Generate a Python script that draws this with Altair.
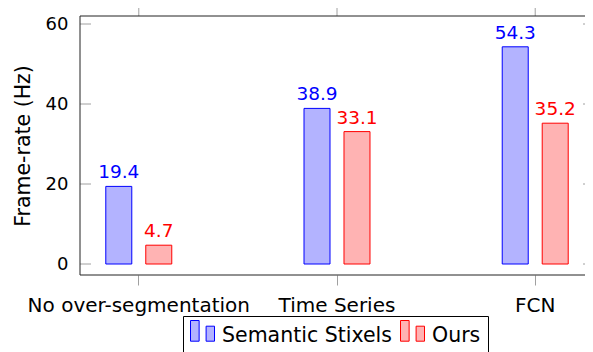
import altair as alt
import pandas as pd

categories = ["No over-segmentation", "Time Series", "FCN"]
series = ["Semantic Stixels", "Ours"]
semantic_stixels = [19.4, 38.9, 54.3]
ours = [4.7, 33.1, 35.2]
y_ticks = [0, 20, 40, 60]

df = pd.DataFrame({
    "category": categories * 2,
    "series": [series[0]] * len(categories) + [series[1]] * len(categories),
    "rate": semantic_stixels + ours,
})
df["label"] = df["rate"].map(lambda v: f"{v:.1f}")

FONT = "DejaVu Sans"
W_VIEW, W_FULL, H = 505, 514, 259
FILLS = ["#b3b3ff", "#ffb3b3"]
LINES = ["#0000ff", "#ff0000"]
TICK = "#a0a0a0"
FRAME = "#222222"

x_enc = alt.X(
    "category:N", sort=categories,
    scale=alt.Scale(domain=categories, range=[0, W_FULL], paddingInner=0.5965, paddingOuter=0.0948),
    axis=alt.Axis(title=None, labelFont=FONT, labelFontSize=20, labelColor="black",
                  labelAngle=0, labelPadding=10, tickSize=10, tickColor=TICK, tickWidth=1,
                  domain=False, grid=False, labelLimit=400, labelOverlap=False),
)
y_enc = alt.Y(
    "rate:Q",
    scale=alt.Scale(domain=[-2.75, 62], nice=False, zero=False),
    axis=alt.Axis(title="Frame-rate (Hz)", values=y_ticks, titleFont=FONT, titleFontSize=20.5,
                  titleFontWeight="normal", titleColor="black", titlePadding=12,
                  labelFont=FONT, labelFontSize=18, labelColor="black", labelPadding=12,
                  ticks=False, tickSize=0, domain=False, grid=False),
)
xoff = alt.XOffset("series:N", sort=series,
                   scale=alt.Scale(domain=series, paddingInner=0.35, paddingOuter=0.175))

legend = alt.Legend(
    title=None, orient="none", legendX=103, legendY=300, direction="horizontal",
    symbolType="M-1,-1.25H-0.28V0.475H-1Z M0.3,-0.775H1V0.475H0.3Z",
    symbolSize=576, symbolStrokeWidth=1, symbolOpacity=1,
    labelFont=FONT, labelFontSize=20.5, labelColor="black", labelOffset=7,
    columnPadding=6, padding=7, strokeColor="black", labelLimit=400,
    labelExpr="datum.label == 'Ours' ? datum.label + '\u00a0\u00a0' : datum.label",
)

bars = alt.Chart(df).mark_bar(strokeWidth=1).encode(
    x=x_enc, xOffset=xoff, y=y_enc,
    fill=alt.Fill("series:N", sort=series, scale=alt.Scale(domain=series, range=FILLS), legend=legend),
    stroke=alt.Stroke("series:N", sort=series, scale=alt.Scale(domain=series, range=LINES), legend=legend),
)

text = alt.Chart(df).mark_text(font=FONT, fontSize=18.5, baseline="alphabetic", dy=-8).encode(
    x=x_enc, xOffset=xoff, y=y_enc, text="label:N",
    color=alt.Color("series:N", sort=series, scale=alt.Scale(domain=series, range=LINES), legend=None),
)

tick_df = pd.DataFrame({"rate": y_ticks})
ticks_left = alt.Chart(tick_df).mark_rule(color=TICK, strokeWidth=1).encode(
    y=y_enc, x=alt.value(0), x2=alt.value(11))
ticks_right = alt.Chart(tick_df).mark_rule(color=TICK, strokeWidth=1).encode(
    y=y_enc, x=alt.value(W_FULL - 11), x2=alt.value(W_FULL))
top_ticks = alt.Chart(pd.DataFrame({"category": categories})).mark_rule(color=TICK, strokeWidth=1).encode(
    x=x_enc, y=alt.value(-10), y2=alt.value(0))

one = pd.DataFrame({"k": [0]})
frame_left = alt.Chart(one).mark_rule(color=FRAME, strokeWidth=1).encode(
    x=alt.value(0), y=alt.value(0), y2=alt.value(H))
frame_top = alt.Chart(one).mark_rule(color=FRAME, strokeWidth=1).encode(
    x=alt.value(0), x2=alt.value(W_FULL), y=alt.value(0))
frame_bottom = alt.Chart(one).mark_rule(color=FRAME, strokeWidth=1).encode(
    x=alt.value(0), x2=alt.value(W_FULL), y=alt.value(H))

chart = alt.layer(
    bars, text, ticks_left, ticks_right, top_ticks, frame_left, frame_top, frame_bottom
).properties(
    width=W_VIEW, height=H,
    autosize=alt.AutoSizeParams(type="none"),
    padding={"left": 72, "top": 8, "right": 0, "bottom": 90},
).configure(font=FONT).configure_view(stroke=None)

chart.save("out.html", embed_options={"renderer": "svg", "actions": False})
